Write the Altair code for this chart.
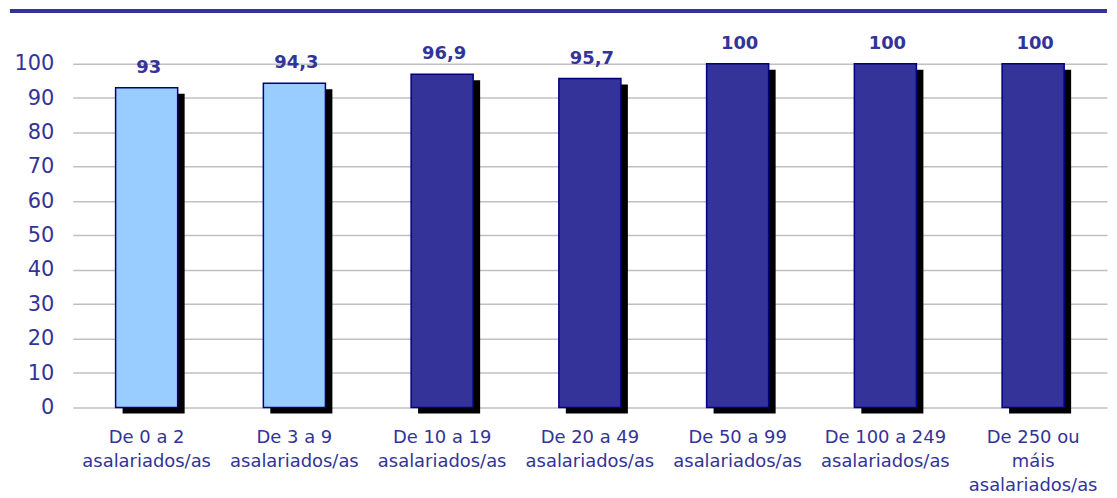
import altair as alt
import pandas as pd

categories = [
    "De 0 a 2\nasalariados/as",
    "De 3 a 9\nasalariados/as",
    "De 10 a 19\nasalariados/as",
    "De 20 a 49\nasalariados/as",
    "De 50 a 99\nasalariados/as",
    "De 100 a 249\nasalariados/as",
    "De 250 ou\nmáis\nasalariados/as",
]
values = [93, 94.3, 96.9, 95.7, 100, 100, 100]
labels = ["93", "94,3", "96,9", "95,7", "100", "100", "100"]
groups = ["small", "small", "large", "large", "large", "large", "large"]

df = pd.DataFrame({"cat": categories, "val": values, "lab": labels, "grp": groups})

FONT = "DejaVu Sans"
NAVY = "#333399"
W = 1038
H = 398

xenc = alt.X(
    "cat:N",
    sort=None,
    title=None,
    scale=alt.Scale(paddingInner=0.58, paddingOuter=0.29),
    axis=alt.Axis(
        labelAngle=0,
        labelExpr="split(datum.label, '\\n')",
        labelFont=FONT,
        labelFontSize=18,
        labelColor=NAVY,
        labelLineHeight=24,
        labelPadding=21,
        ticks=False,
        domain=False,
        grid=False,
        labelLimit=300,
    ),
)
yscale = alt.Scale(domain=[0, 115.36], nice=False, zero=True)
yenc = alt.Y(
    "val:Q",
    title=None,
    scale=yscale,
    axis=alt.Axis(
        values=list(range(0, 101, 10)),
        labelFont=FONT,
        labelFontSize=21,
        labelColor=NAVY,
        labelPadding=19,
        ticks=False,
        domain=False,
        grid=True,
        gridColor="#c0c0c0",
        gridWidth=1.6,
    ),
)

base = alt.Chart(df)

shadow = base.mark_bar(color="#000000", xOffset=7, yOffset=6, y2Offset=2.5).encode(
    x=xenc, y=yenc
)
bars = base.mark_bar(stroke="#000080", strokeWidth=1.5).encode(
    x=xenc,
    y=yenc,
    color=alt.Color(
        "grp:N",
        scale=alt.Scale(domain=["small", "large"], range=["#99CCFF", NAVY]),
        legend=None,
    ),
)
text = base.mark_text(
    font=FONT, fontSize=18, fontWeight="bold", color=NAVY, baseline="alphabetic", dy=-15, dx=2
).encode(x=xenc, y=yenc, text="lab:N")

border = base.mark_rule(color=NAVY, strokeWidth=4).encode(
    x=alt.value(-63), x2=alt.value(W), y=alt.value(0)
)

chart = (
    alt.layer(shadow, bars, text, border)
    .properties(width=W, height=H, padding=0, background="white")
    .configure_view(stroke=None)
)

chart.save("out.html", embed_options={"renderer": "svg", "actions": False})
